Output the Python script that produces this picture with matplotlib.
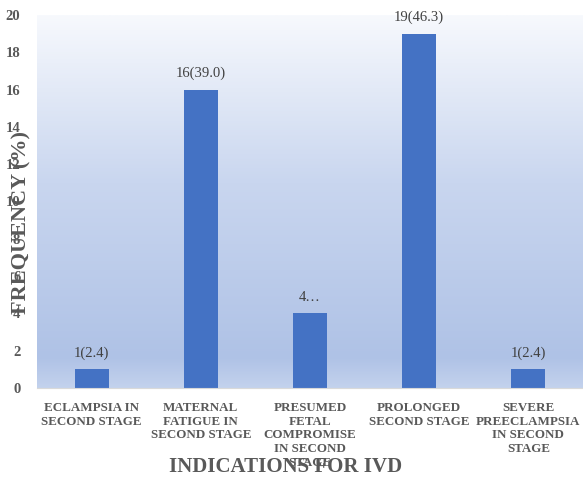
import numpy as np
import matplotlib.pyplot as plt
from matplotlib.colors import LinearSegmentedColormap

categories = [
    "ECLAMPSIA IN\nSECOND STAGE",
    "MATERNAL\nFATIGUE IN\nSECOND STAGE",
    "PRESUMED\nFETAL\nCOMPROMISE\nIN SECOND\nSTAGE",
    "PROLONGED\nSECOND STAGE",
    "SEVERE\nPREECLAMPSIA\nIN SECOND\nSTAGE",
]
counts = [1, 16, 4, 19, 1]
labels = ["1(2.4)", "16(39.0)", "4\u2026", "19(46.3)", "1(2.4)"]

plt.rcParams["font.family"] = ["Liberation Serif", "DejaVu Serif"]
gray = "#595959"

fig = plt.figure(figsize=(5.83, 4.82), dpi=100)
ax = fig.add_axes([37 / 583, 1 - 388 / 482, 1 - 37 / 583, (388 - 15) / 482])

x = np.arange(len(categories))
ax.set_xlim(-0.5, len(categories) - 0.5)
ax.set_ylim(0, 20)

# vertical gradient fill behind the bars
cmap = LinearSegmentedColormap.from_list(
    "bg", [(0, "#c3d2ed"), (0.08, "#afc2e6"), (0.55, "#c9d6ef"), (1, "#f7f9fd")])
grad = np.linspace(0, 1, 256).reshape(-1, 1)
ax.imshow(grad, cmap=cmap, aspect="auto", origin="lower",
          extent=[-0.5, len(categories) - 0.5, 0, 20], zorder=0)

ax.bar(x, counts, width=0.31, color="#4472c4", zorder=2)
for xi, c, lab in zip(x, counts, labels):
    ax.text(xi, c + 0.5, lab, ha="center", va="bottom", fontsize=10.5, color="#404040")

ax.set_xticks(x)
ax.set_xticklabels(categories, fontsize=9.4, fontweight="bold", color=gray, linespacing=1.2)
ax.set_yticks(range(0, 21, 2))
ax.set_yticklabels([str(v) for v in range(0, 21, 2)], fontsize=10.5, fontweight="bold", color=gray)
ax.tick_params(axis="both", length=0)
ax.tick_params(axis="x", pad=10)
ax.tick_params(axis="y", pad=12)

for s in ["top", "right", "left"]:
    ax.spines[s].set_visible(False)
ax.spines["bottom"].set_color("#d9d9d9")

fig.text(286 / 583, 1 - 467 / 482, "INDICATIONS FOR IVD", ha="center", va="center",
         fontsize=15, fontweight="bold", color=gray)
fig.text(21 / 583, 1 - 223 / 482, "FREQUENCY (%)", ha="center", va="center",
         rotation=90, fontsize=16, fontweight="bold", color=gray)

fig.savefig("out.png", dpi=100)
